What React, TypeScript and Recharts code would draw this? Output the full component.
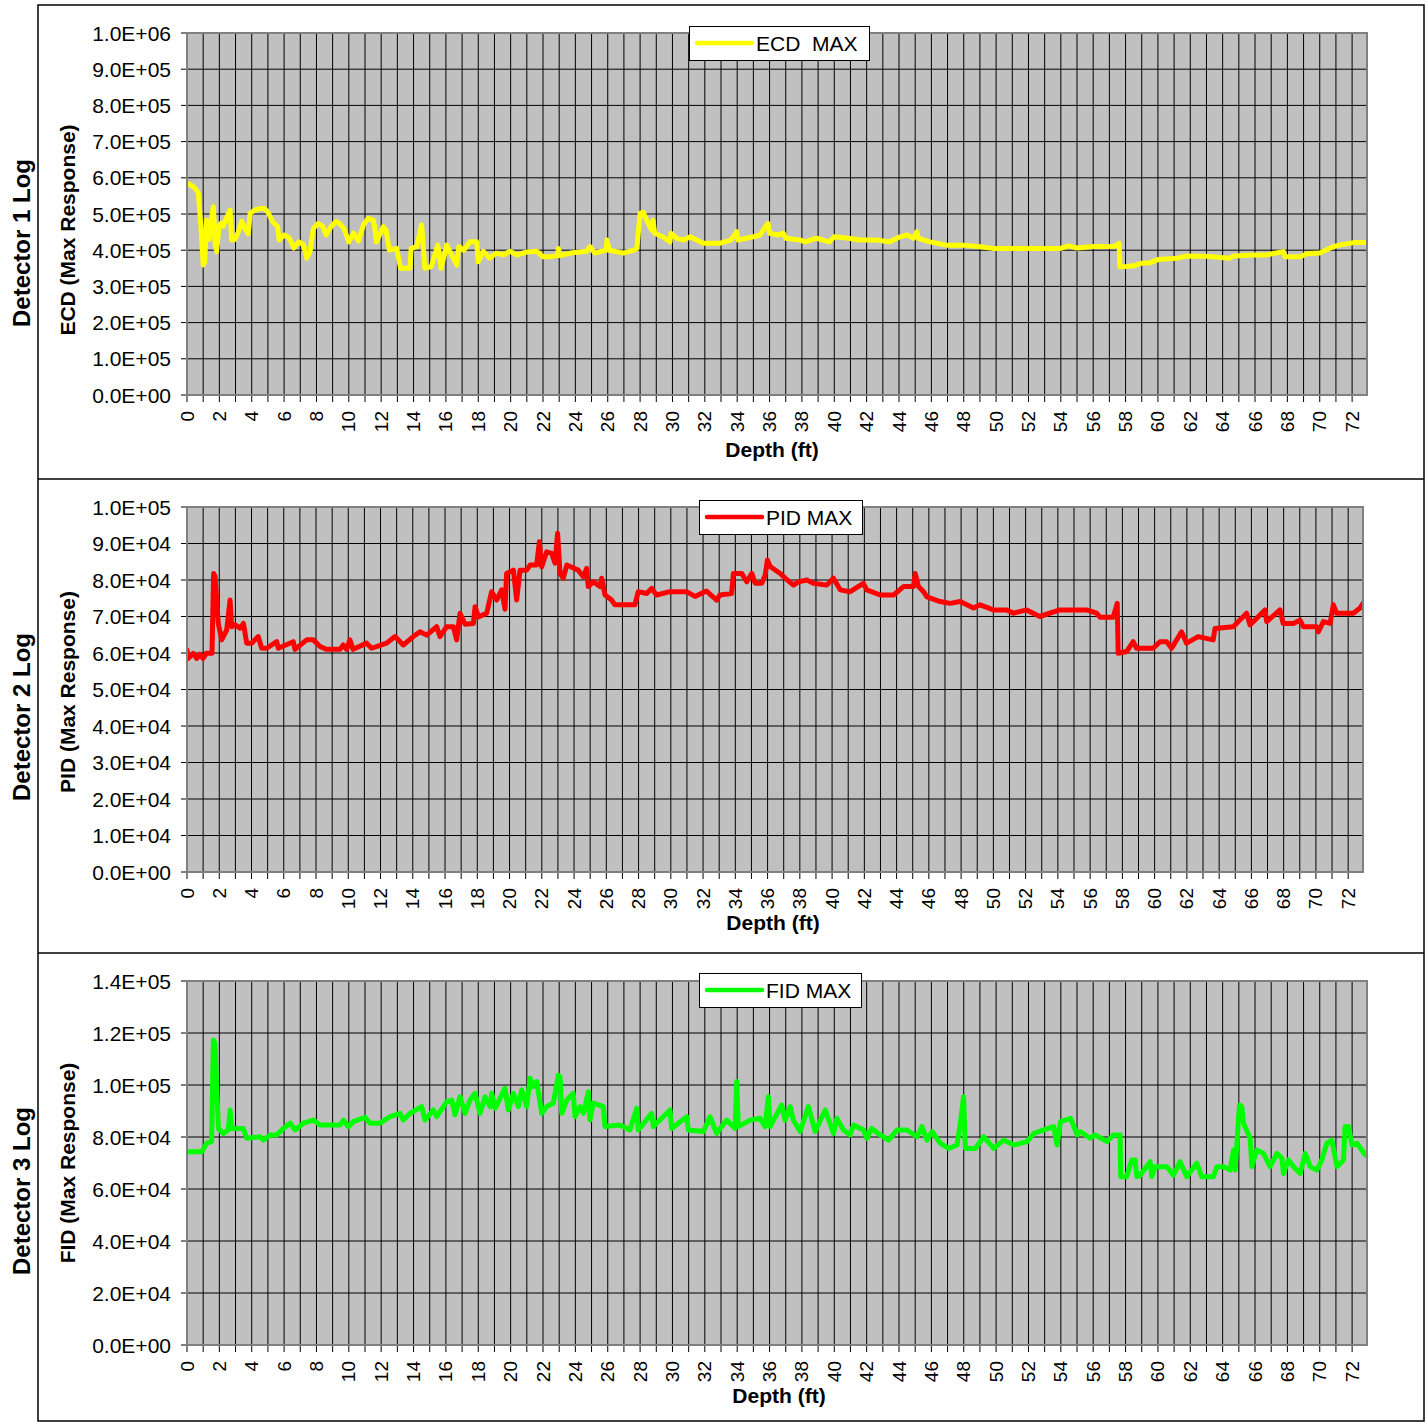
import React from 'react';
import { LineChart, Line, XAxis, YAxis, CartesianGrid } from 'recharts';

// ---- Detector 1 (ECD) log: depth (ft) and max response ----
const ecdDepth = [
  0, 0.3, 0.5, 0.7, 0.85, 1.0, 1.1, 1.2, 1.3, 1.37, 1.45, 1.63, 1.73, 1.83, 1.99, 2.13, 2.24, 2.45, 2.66, 2.76,
  2.97, 3.17, 3.38, 3.58, 3.79, 3.9, 4.2, 4.5, 4.8, 5.0, 5.3, 5.6, 5.7, 6.0, 6.3, 6.6, 6.9, 7.2, 7.4, 7.6,
  7.8, 8.1, 8.4, 8.6, 8.9, 9.2, 9.4, 9.7, 10.0, 10.3, 10.6, 10.9, 11.2, 11.5, 11.6, 11.7, 12.13, 12.3, 12.5, 12.96,
  13.2, 13.78, 13.85, 14.2, 14.5, 14.7, 15.1, 15.5, 15.7, 16.05, 16.35, 16.67, 16.8, 17.1, 17.49, 17.9, 18.0, 18.3, 18.7, 19.1,
  19.55, 19.96, 20.4, 21.0, 21.6, 22.0, 22.4, 22.9, 22.95, 23.05, 23.7, 24.7, 24.9, 25.2, 25.9, 25.95, 26.1, 26.97, 27.6, 27.8,
  28.0, 28.2, 28.4, 28.7, 28.8, 28.9, 29.4, 29.85, 29.9, 30.3, 30.7, 31.1, 31.9, 32.9, 33.6, 33.97, 34.05, 35.0, 35.4, 35.9,
  36.0, 36.5, 36.85, 37.0, 37.9, 38.2, 38.9, 39.7, 40.0, 40.9, 41.6, 42.6, 43.4, 44.07, 44.5, 44.9, 45.1, 45.2, 45.9, 46.95,
  47.97, 48.9, 49.8, 51.9, 53.98, 54.5, 55.0, 56.0, 57.25, 57.6, 57.65, 58.07, 58.5, 59.0, 59.5, 60.0, 61.2, 61.8, 63.0, 64.4,
  64.7, 65.9, 66.7, 67.75, 67.85, 68.8, 69.2, 70.0, 70.85, 71.2, 72.1, 72.92,
];
const ecdMax = [
  585000, 578000, 571000, 558000, 470000, 359000, 370000, 483000, 440000, 430000, 470000, 520000, 420000, 396000, 470000, 475000, 466000, 490000, 511000, 428000,
  430000, 450000, 480000, 460000, 445000, 502000, 511000, 515000, 515000, 505000, 478000, 465000, 428000, 442000, 435000, 406000, 423000, 415000, 378000, 395000,
  460000, 474000, 465000, 442000, 465000, 479000, 475000, 460000, 423000, 447000, 425000, 470000, 488000, 483000, 465000, 423000, 465000, 455000, 400000, 405000,
  350000, 350000, 405000, 410000, 470000, 350000, 355000, 414000, 350000, 414000, 387000, 359000, 410000, 400000, 423000, 423000, 368000, 397000, 378000, 392000,
  387000, 397000, 387000, 395000, 397000, 382000, 382000, 385000, 405000, 385000, 392000, 397000, 410000, 392000, 400000, 428000, 400000, 392000, 400000, 405000,
  502000, 505000, 483000, 456000, 483000, 447000, 437000, 423000, 447000, 432000, 428000, 437000, 419000, 419000, 428000, 451000, 428000, 437000, 442000, 474000,
  447000, 442000, 447000, 433000, 428000, 423000, 433000, 423000, 437000, 433000, 428000, 428000, 423000, 437000, 442000, 433000, 451000, 433000, 423000, 414000,
  414000, 410000, 405000, 405000, 405000, 412000, 406000, 410000, 410000, 419000, 354000, 355000, 357000, 364000, 365000, 374000, 378000, 384000, 383000, 378000,
  384000, 387000, 387000, 396000, 382000, 382000, 390000, 392000, 410000, 414000, 421000, 421000,
];

// ---- Detector 2 (PID) log ----
const pidDepth = [
  0, 0.07, 0.39, 0.6, 0.8, 1.0, 1.2, 1.55, 1.65, 1.74, 1.94, 2.15, 2.46, 2.67, 2.77, 2.98, 3.29, 3.5, 3.7, 4.01,
  4.42, 4.63, 4.94, 5.56, 5.66, 6.59, 6.7, 7.42, 7.83, 8.25, 8.66, 9.49, 9.69, 9.9, 10.1, 10.3, 11.14, 11.45, 12.38, 12.9,
  13.41, 14.03, 14.45, 14.86, 15.48, 15.69, 16.1, 16.52, 16.72, 16.93, 17.24, 17.76, 17.86, 18.07, 18.58, 18.89, 19.2, 19.51, 19.72, 19.82,
  20.24, 20.44, 20.65, 21.06, 21.27, 21.68, 21.85, 21.99, 22.3, 22.61, 22.82, 22.98, 23.13, 23.33, 23.55, 24.26, 24.57, 24.78, 24.88, 25.19,
  25.6, 25.71, 25.92, 26.33, 26.53, 27.77, 27.98, 28.5, 28.81, 29.12, 29.94, 30.97, 31.5, 32.2, 32.84, 33.05, 33.77, 33.88, 34.4, 34.71,
  35.02, 35.23, 35.64, 35.85, 35.99, 36.16, 36.78, 37.09, 37.6, 37.91, 38.43, 38.84, 39.67, 40.08, 40.5, 41.12, 41.94, 42.15, 42.98, 43.81,
  44.43, 45.05, 45.15, 45.36, 45.67, 45.88, 46.7, 47.32, 47.94, 48.77, 49.18, 50.01, 50.84, 51.23, 52.06, 52.88, 54.12, 54.95, 55.78, 56.4,
  56.61, 57.43, 57.68, 57.74, 58.26, 58.67, 58.88, 59.91, 60.33, 60.74, 61.05, 61.67, 61.98, 62.7, 63.63, 63.74, 64.88, 65.19, 65.7, 65.91,
  66.33, 66.84, 66.95, 67.77, 67.97, 68.6, 69.01, 69.22, 70.05, 70.15, 70.46, 70.88, 71.08, 71.29, 72.32, 72.74, 72.92,
];
const pidMax = [
  60800, 58500, 59900, 58500, 59700, 58500, 59900, 59900, 81800, 81000, 68100, 63600, 66300, 74500, 67200, 67700, 66800, 68100, 62700, 62700,
  64500, 61300, 61300, 63100, 61300, 63100, 61000, 63600, 63600, 61800, 61000, 61000, 62200, 61000, 63600, 61000, 62700, 61300, 62700, 64500,
  62200, 64500, 65800, 64900, 67200, 64500, 67200, 67200, 63600, 70900, 67900, 68100, 72700, 69900, 70900, 76800, 74500, 77300, 72000, 81800,
  82700, 74500, 82700, 82700, 84100, 84100, 90500, 83600, 87700, 87300, 84600, 92800, 81800, 80500, 84100, 82700, 80900, 83200, 78200, 79500,
  78200, 80500, 75900, 74500, 73200, 73200, 76800, 76300, 77700, 75900, 76800, 76800, 75500, 77000, 74500, 75900, 76300, 81800, 81800, 79500,
  81800, 79100, 79100, 81300, 85500, 83700, 81800, 80500, 78600, 79500, 80000, 79100, 78600, 80500, 77300, 76800, 79100, 77300, 75900, 75900,
  78200, 78200, 81800, 78200, 76800, 75400, 74100, 73600, 74100, 72300, 73200, 71800, 71800, 70900, 71800, 70000, 71800, 71800, 71800, 70900,
  69800, 69800, 73600, 59900, 60400, 63100, 61300, 61300, 63100, 63100, 61300, 65800, 62700, 64500, 63600, 66700, 67200, 68600, 70900, 67700,
  69500, 71800, 68600, 71800, 68100, 68100, 69000, 67200, 67200, 65800, 68600, 68100, 73200, 70900, 70900, 72300, 73600,
];

// ---- Detector 3 (FID) log ----
const fidDepth = [
  0, 0.91, 1.22, 1.52, 1.63, 1.73, 1.94, 2.25, 2.55, 2.66, 2.76, 3.48, 3.69, 4.51, 4.72, 5.13, 5.54, 5.95, 6.37, 6.68,
  7.19, 7.81, 8.22, 9.46, 9.66, 9.97, 10.28, 11.0, 11.31, 11.93, 12.55, 13.16, 13.37, 13.78, 14.5, 14.71, 15.22, 15.43, 16.05, 16.36,
  16.56, 16.87, 17.18, 17.49, 17.8, 18.11, 18.42, 18.73, 18.83, 19.04, 19.65, 19.86, 20.17, 20.48, 20.68, 20.99, 21.2, 21.41, 21.61, 21.92,
  22.23, 22.64, 22.95, 23.05, 23.16, 23.47, 23.87, 23.98, 24.29, 24.5, 24.8, 24.9, 25.11, 25.73, 25.83, 26.76, 27.37, 27.79, 27.89, 28.71,
  28.82, 29.85, 29.95, 30.88, 30.98, 31.91, 32.32, 32.73, 33.35, 33.87, 33.97, 34.07, 34.79, 35.41, 35.72, 35.93, 36.03, 36.75, 36.96, 37.27,
  37.47, 37.89, 38.4, 38.82, 39.44, 39.95, 40.16, 40.57, 40.98, 41.19, 41.81, 42.01, 42.32, 42.84, 43.36, 43.87, 44.49, 45.11, 45.42, 45.73,
  46.04, 46.55, 47.07, 47.58, 47.79, 47.99, 48.1, 48.72, 49.23, 49.85, 50.47, 51.09, 51.91, 52.33, 52.95, 53.56, 53.77, 53.98, 54.6, 55.01,
  55.19, 55.81, 56.12, 56.84, 57.25, 57.66, 57.7, 58.07, 58.38, 58.59, 58.69, 58.9, 59.52, 59.62, 59.83, 60.55, 60.96, 61.37, 61.78, 62.4,
  62.71, 63.43, 63.64, 64.05, 64.46, 64.67, 64.77, 65.04, 65.18, 65.29, 65.7, 65.8, 66.11, 66.52, 66.93, 67.35, 67.66, 67.76, 68.07, 68.38,
  68.79, 69.1, 69.41, 69.82, 70.13, 70.44, 70.75, 71.06, 71.47, 71.57, 71.78, 71.99, 72.3, 72.81, 72.92,
];
const fidMax = [
  74300, 74300, 77600, 78200, 117300, 116000, 83300, 81400, 82700, 90400, 83300, 83300, 79500, 80100, 78800, 80800, 80800, 83300, 85300, 82700,
  85300, 86500, 84600, 84600, 86500, 84000, 85900, 87600, 85300, 85300, 87800, 89100, 86500, 89100, 91700, 86500, 90400, 87800, 93600, 94200,
  88500, 95500, 89100, 94200, 96800, 89100, 95500, 91700, 96800, 91000, 98700, 90400, 96800, 91700, 98100, 91700, 102600, 99400, 101300, 89100,
  91700, 93000, 103800, 103200, 89100, 94200, 96800, 87800, 91700, 89100, 97400, 86500, 93000, 91700, 84000, 84600, 82700, 91000, 82700, 89100,
  84000, 90400, 83300, 87800, 82700, 82100, 87800, 81400, 86500, 83300, 101300, 84000, 86500, 87200, 84000, 95500, 84000, 92300, 86500, 91700,
  86500, 82100, 91700, 82100, 90400, 81400, 87200, 82700, 80800, 84600, 82700, 79500, 83300, 80800, 78800, 82700, 82700, 80100, 84000, 78800,
  82100, 77600, 75600, 76900, 85300, 95500, 75600, 75600, 80100, 75600, 78800, 76900, 78200, 81400, 82700, 84000, 76900, 85900, 87200, 80800,
  82100, 79500, 80800, 78200, 80800, 80800, 64700, 64700, 71200, 71200, 64700, 65300, 70500, 64700, 68600, 68600, 65300, 70500, 64700, 69900,
  64700, 64700, 68600, 68600, 67300, 75000, 67300, 92300, 91700, 85300, 79500, 68600, 75000, 73700, 68600, 73700, 71800, 66000, 71200, 68600,
  66000, 73700, 68600, 67300, 71200, 77600, 78800, 68600, 71200, 84000, 84000, 76900, 77600, 73100, 73000,
];

// ---- Axis ticks ----
const depthTicks = Array.from({ length: 73 }, (_, i) => i);
const ecdTicks = [0, 100000, 200000, 300000, 400000, 500000, 600000, 700000, 800000, 900000, 1000000];
const pidTicks = [0, 10000, 20000, 30000, 40000, 50000, 60000, 70000, 80000, 90000, 100000];
const fidTicks = [0, 20000, 40000, 60000, 80000, 100000, 120000, 140000];

const FONT = '"Liberation Sans", Arial, Helvetica, sans-serif';
const PAGE_W = 1427;
const PAGE_H = 1422;
const Y_AXIS_W = 120;
const X_AXIS_H = 40;

// "1.0E+05" style labels
const sci = (v: number) => {
  const [m, e] = v.toExponential(1).split('e');
  const sign = e[0] === '-' ? '-' : '+';
  const digits = e.replace(/^[+-]/, '').padStart(2, '0');
  return `${m}E${sign}${digits}`;
};

const YTick = (props: any) => {
  const { x, y, payload } = props;
  return (
    <text x={x} y={y} textAnchor="end" dominantBaseline="central" fontSize={21} fontFamily={FONT} fill="#000">
      {sci(payload.value)}
    </text>
  );
};

const XTick = (props: any) => {
  const { x, y, payload } = props;
  if (payload.value % 2 !== 0) return <g />;
  return (
    <text
      x={x}
      y={y}
      transform={`rotate(-90 ${x} ${y})`}
      textAnchor="end"
      dominantBaseline="central"
      fontSize={19}
      fontFamily={FONT}
      fill="#000"
    >
      {payload.value}
    </text>
  );
};

type PanelProps = {
  depth: number[];
  values: number[];
  color: string;
  yTicks: number[];
  top: number;
  height: number;
  plotTop: number;
  plotBottom: number;
  plotRight: number;
};

const Panel = ({ depth, values, color, yTicks, top, height, plotTop, plotBottom, plotRight }: PanelProps) => {
  const data = depth.map((d, i) => ({ depth: d, value: values[i] }));
  const margin = {
    top: plotTop - top,
    right: PAGE_W - plotRight,
    bottom: top + height - plotBottom - X_AXIS_H,
    left: 187 - Y_AXIS_W,
  };
  return (
    <div style={{ position: 'absolute', left: 0, top, width: PAGE_W, height }}>
      <LineChart width={PAGE_W} height={height} data={data} margin={margin}>
        <CartesianGrid stroke="#000" strokeWidth={1} fill="#C0C0C0" fillOpacity={1} />
        <XAxis
          type="number"
          dataKey="depth"
          domain={[0, 72.92]}
          ticks={depthTicks}
          interval={0}
          allowDataOverflow
          height={X_AXIS_H}
          tickSize={7}
          tickMargin={9}
          tick={<XTick />}
          tickLine={{ stroke: '#000' }}
          axisLine={{ stroke: '#606060', strokeWidth: 2 }}
        />
        <YAxis
          type="number"
          domain={[0, yTicks[yTicks.length - 1]]}
          ticks={yTicks}
          interval={0}
          width={Y_AXIS_W}
          tickSize={6}
          tickMargin={10}
          tick={<YTick />}
          tickLine={{ stroke: '#000' }}
          axisLine={{ stroke: '#606060', strokeWidth: 2 }}
        />
        <Line
          type="linear"
          dataKey="value"
          stroke={color}
          strokeWidth={5}
          strokeLinejoin="round"
          strokeLinecap="round"
          dot={false}
          activeDot={false}
          isAnimationActive={false}
        />
      </LineChart>
    </div>
  );
};

type LegendBox = { x: number; y: number; w: number; h: number; color: string; label: string };

const Legend = ({ x, y, w, h, color, label }: LegendBox) => (
  <g>
    <rect x={x + 0.5} y={y + 0.5} width={w} height={h} fill="#fff" stroke="#000" strokeWidth={1} />
    <line x1={x + 8} y1={y + h / 2} x2={x + 63} y2={y + h / 2} stroke={color} strokeWidth={4.5} strokeLinecap="round" />
    <text x={x + 67} y={y + h / 2} dominantBaseline="central" fontSize={21} fontFamily={FONT} fill="#000" style={{ whiteSpace: 'pre' }}>
      {label}
    </text>
  </g>
);

const VTitle = ({ x, y, text, size }: { x: number; y: number; text: string; size: number }) => (
  <text
    x={x}
    y={y}
    transform={`rotate(-90 ${x} ${y})`}
    textAnchor="middle"
    dominantBaseline="central"
    fontSize={size}
    fontWeight="bold"
    fontFamily={FONT}
    fill="#000"
  >
    {text}
  </text>
);

const HTitle = ({ x, y, text }: { x: number; y: number; text: string }) => (
  <text x={x} y={y} textAnchor="middle" dominantBaseline="central" fontSize={21} fontWeight="bold" fontFamily={FONT} fill="#000">
    {text}
  </text>
);

export default function App() {
  return (
    <div style={{ position: 'absolute', left: 0, top: 0, width: PAGE_W, height: PAGE_H, background: '#fff', overflow: 'hidden' }}>
      <Panel depth={ecdDepth} values={ecdMax} color="#FFFF00" yTicks={ecdTicks} top={5} height={474} plotTop={33} plotBottom={395} plotRight={1367} />
      <Panel depth={pidDepth} values={pidMax} color="#FF0000" yTicks={pidTicks} top={479} height={474} plotTop={507} plotBottom={872} plotRight={1363} />
      <Panel depth={fidDepth} values={fidMax} color="#00FF00" yTicks={fidTicks} top={953} height={469} plotTop={981} plotBottom={1345} plotRight={1367} />

      <svg width={PAGE_W} height={PAGE_H} style={{ position: 'absolute', left: 0, top: 0, pointerEvents: 'none' }}>
        {/* plot frames */}
        <rect x={187} y={33} width={1180} height={362} fill="none" stroke="#808080" strokeWidth={2} />
        <rect x={187} y={507} width={1176} height={365} fill="none" stroke="#808080" strokeWidth={2} />
        <rect x={187} y={981} width={1180} height={364} fill="none" stroke="#808080" strokeWidth={2} />

        {/* outer frame and panel separators */}
        <rect x={38} y={5} width={1386} height={1416} fill="none" stroke="#000" strokeWidth={1.5} />
        <line x1={38} y1={479} x2={1424} y2={479} stroke="#000" strokeWidth={1.5} />
        <line x1={38} y1={953} x2={1424} y2={953} stroke="#000" strokeWidth={1.5} />

        {/* titles */}
        <VTitle x={21} y={243} text="Detector 1 Log" size={24} />
        <VTitle x={21} y={717} text="Detector 2 Log" size={24} />
        <VTitle x={21} y={1191} text="Detector 3 Log" size={24} />
        <VTitle x={67} y={230} text="ECD (Max Response)" size={21} />
        <VTitle x={67} y={692} text="PID (Max Response)" size={21} />
        <VTitle x={67} y={1163} text="FID (Max Response)" size={21} />
        <HTitle x={772} y={449} text="Depth (ft)" />
        <HTitle x={773} y={922} text="Depth (ft)" />
        <HTitle x={779} y={1395} text="Depth (ft)" />

        {/* legends */}
        <Legend x={689} y={26} w={180} h={34} color="#FFFF00" label="ECD  MAX" />
        <Legend x={699} y={500} w={163} h={34} color="#FF0000" label="PID MAX" />
        <Legend x={699} y={973} w={162} h={34} color="#00FF00" label="FID MAX" />
      </svg>
    </div>
  );
}
